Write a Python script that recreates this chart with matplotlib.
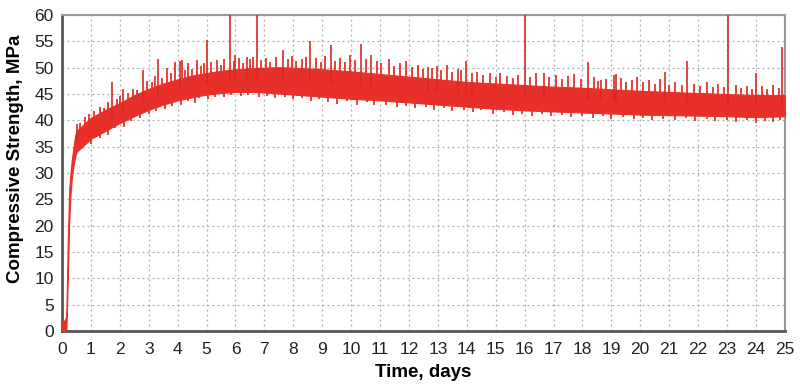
import matplotlib.pyplot as plt
import numpy as np

# core band of the strength curve (days, MPa)
t_band = [0.0, 0.1, 0.15, 0.2, 0.25, 0.3, 0.35, 0.4, 0.45, 0.5, 1.0, 1.5, 2.0, 2.5, 3.0,
          3.5, 4.0, 4.5, 5.0, 5.5, 6.0, 6.5, 7.0, 7.5, 8.0, 9.0, 10.0, 11.0, 12.0, 13.0,
          14.0, 15.0, 16.0, 17.0, 18.0, 19.0, 20.0, 21.0, 22.0, 23.0, 24.0, 25.0]
high = [2.0, 2.0, 3.0, 17.0, 27.0, 30.5, 33.0, 35.0, 37.0, 38.0, 40.5, 42.0, 43.3, 44.8,
        46.0, 47.0, 47.8, 48.5, 49.0, 49.4, 49.7, 49.9, 50.0, 50.1, 50.0, 49.7, 49.3, 48.8,
        48.3, 47.8, 47.3, 47.0, 46.7, 46.4, 46.2, 45.9, 45.6, 45.4, 45.2, 45.0, 44.8, 44.8]
low = [0.0, 0.0, 0.0, 10.0, 21.0, 26.5, 29.5, 31.5, 33.0, 34.0, 36.5, 38.0, 39.5, 40.8,
       42.0, 43.0, 43.8, 44.4, 44.9, 45.2, 45.4, 45.4, 45.3, 45.1, 44.9, 44.5, 44.1, 43.8,
       43.4, 43.0, 42.6, 42.2, 41.9, 41.7, 41.5, 41.3, 41.1, 41.0, 40.9, 40.8, 40.6, 40.8]

# noisy fringe above the band
up_t = [0.62, 0.8, 0.95, 1.1, 1.3, 1.45, 1.6, 1.9, 2.0, 2.3, 2.45, 2.6, 2.95, 3.1, 3.2,
        3.45, 3.62, 3.78, 3.9, 4.14, 4.25, 4.37, 4.5, 4.66, 4.8, 4.9, 5.15, 5.35, 5.5,
        5.62, 5.95, 6.12, 6.25, 6.5, 6.6, 6.9, 7.05, 7.2, 7.4, 7.8, 7.95, 8.1, 8.3, 8.45,
        8.8, 8.95, 9.1, 9.45, 9.6, 9.8, 9.95, 10.15, 10.5, 10.9, 11.05, 11.3, 11.5, 11.7,
        11.9, 12.1, 12.3, 12.5, 12.8, 13.1, 13.3, 13.5, 13.8, 14.35, 14.55, 14.8, 15.0,
        15.15, 15.4, 15.6, 15.78, 16.2, 16.4, 16.85, 17.1, 17.3, 17.5, 17.7, 17.95, 18.4,
        18.55, 18.8, 19.35, 19.5, 19.7, 19.9, 20.1, 20.3, 20.5, 20.7, 21.0, 21.2, 21.45,
        21.85, 22.05, 22.3, 22.5, 22.7, 22.9, 23.3, 23.5, 23.7, 23.85, 24.2, 24.4, 24.6,
        24.8]
up_v = [39.5, 40.6, 41.2, 41.8, 42.6, 42.4, 43.5, 44.0, 44.6, 45.2, 46.0, 45.8, 47.4,
        47.2, 48.4, 48.0, 49.9, 48.9, 51.1, 51.5, 49.6, 50.9, 49.8, 51.4, 50.3, 50.8, 51.0,
        51.4, 50.6, 51.6, 51.2, 51.8, 50.9, 51.6, 52.1, 51.4, 51.8, 51.0, 52.0, 51.7, 52.3,
        51.2, 51.6, 52.0, 51.9, 51.1, 52.3, 51.3, 51.8, 51.0, 52.5, 51.4, 51.7, 51.2, 50.9,
        51.6, 50.4, 50.9, 51.3, 50.2, 50.6, 49.8, 50.0, 49.6, 50.5, 49.2, 49.5, 49.2, 48.6,
        49.0, 48.3, 48.9, 48.4, 48.0, 48.7, 48.3, 48.9, 48.2, 48.6, 47.9, 48.4, 48.8, 47.8,
        48.3, 47.5, 47.9, 48.1, 47.3, 47.7, 48.2, 47.2, 47.6, 47.0, 47.9, 46.8, 47.3, 46.7,
        47.0, 46.5, 47.2, 46.4, 46.9, 46.3, 46.8, 46.2, 46.6, 46.0, 46.5, 45.9, 46.7, 46.1]

# noisy fringe below the band
down_t = [0.7, 1.0, 1.3, 1.6, 1.85, 2.15, 2.4, 2.7, 3.0, 3.25, 3.55, 3.8, 4.1, 4.35, 4.6,
          4.75, 5.05, 5.3, 5.6, 5.85, 6.2, 6.45, 6.8, 7.1, 7.35, 7.7, 8.0, 8.3, 8.6, 8.9,
          9.2, 9.5, 9.85, 10.2, 10.55, 10.8, 11.2, 11.6, 11.9, 12.2, 12.6, 12.85, 13.2,
          13.5, 13.9, 14.2, 14.5, 14.9, 15.3, 15.6, 15.9, 16.25, 16.6, 16.9, 17.3, 17.6,
          18.0, 18.35, 18.7, 19.0, 19.4, 19.8, 20.1, 20.4, 20.8, 21.2, 21.6, 21.9, 22.3,
          22.6, 23.0, 23.3, 23.7, 24.0, 24.3, 24.6, 24.85]
down_v = [35.0, 35.6, 36.6, 37.2, 38.5, 38.8, 39.9, 40.4, 41.2, 41.7, 42.2, 42.8, 43.0,
          43.7, 43.3, 44.2, 44.0, 44.5, 44.4, 44.8, 44.6, 44.9, 44.5, 44.7, 44.2, 44.4,
          44.0, 44.3, 43.6, 44.0, 43.5, 43.2, 43.6, 43.0, 43.4, 42.9, 43.0, 42.6, 42.8,
          42.3, 42.6, 42.0, 42.4, 41.8, 42.0, 41.6, 41.9, 41.3, 41.5, 41.0, 41.2, 40.9,
          41.2, 40.8, 41.0, 40.6, 40.9, 40.5, 40.8, 40.3, 40.6, 40.2, 40.5, 40.0, 40.3,
          40.1, 40.4, 39.9, 40.2, 39.8, 40.1, 39.7, 40.0, 39.5, 39.8, 39.6, 40.0]

# isolated spikes: time, peak value
spike_t = [0.52, 1.72, 2.1, 2.8, 3.33, 4.08, 5.0, 5.81, 6.0, 6.4, 6.73, 7.63, 8.58, 9.3,
           10.33, 10.7, 12.67, 12.96, 13.68, 13.97, 14.17, 16.0, 16.67, 18.2, 18.66, 19.1,
           19.17, 20.87, 21.63, 23.05, 24.02, 24.9]
spike_v = [39.4, 47.3, 46.0, 49.6, 51.6, 51.3, 55.2, 60.0, 52.5, 52.0, 60.0, 53.3, 55.1,
           54.3, 54.5, 52.4, 50.2, 50.3, 49.7, 51.3, 49.0, 60.0, 49.0, 51.1, 47.6, 48.6,
           48.8, 49.2, 51.3, 60.0, 48.9, 54.0]

red = '#e8302a'

plt.rcParams['font.family'] = ['Liberation Sans', 'DejaVu Sans']
fig = plt.figure(figsize=(8, 3.9), dpi=100)
ax = fig.add_axes([0.0775, 0.151, 0.9035, 0.8105])


def mid(t):
    # middle of the band, where the fringe lines start
    return (np.interp(t, t_band, high) + np.interp(t, t_band, low)) / 2


ax.fill_between(t_band, low, high, color=red, lw=0.8, edgecolor=red, zorder=3)
ax.vlines(up_t, mid(up_t), up_v, color=red, lw=1.3, zorder=3)
ax.vlines(down_t, down_v, mid(down_t), color=red, lw=1.3, zorder=3)
ax.vlines(spike_t, mid(spike_t), spike_v, color='#d42a22', lw=1.2, zorder=3)

ax.set_xlim(0, 25)
ax.set_ylim(0, 60)
ax.set_xticks(range(0, 26))
ax.set_yticks(range(0, 61, 5))
ax.tick_params(length=0, labelsize=12.5, colors='#222222')
ax.tick_params(axis='x', pad=8)
ax.tick_params(axis='y', pad=6)
ax.grid(True, ls=(0, (1.5, 2.5)), color='#aaaaaa', lw=0.9)
ax.set_axisbelow(True)

for s in ['left', 'bottom']:
    ax.spines[s].set_color('#555555')
    ax.spines[s].set_linewidth(2)
for s in ['top', 'right']:
    ax.spines[s].set_color('#999999')
    ax.spines[s].set_linewidth(1.5)

ax.set_xlabel('Time, days', fontsize=13.5, fontweight='bold', labelpad=5)
ax.set_ylabel('Compressive Strength, MPa', fontsize=13.5, fontweight='bold')
ax.yaxis.set_label_coords(-0.052, 0.545)

fig.savefig('out.png', dpi=100)
